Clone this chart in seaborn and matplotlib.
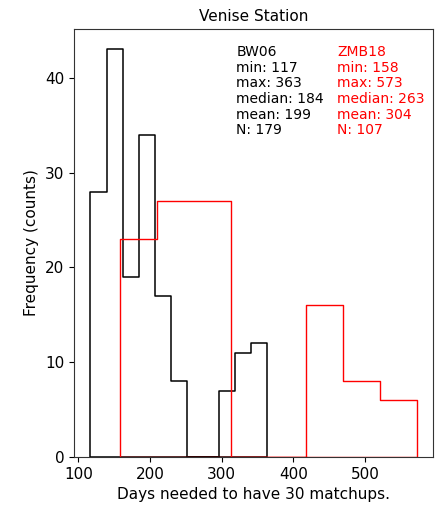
import numpy as np
import pandas as pd
import matplotlib
matplotlib.use("Agg")
import matplotlib.pyplot as plt
import seaborn as sns

# BW06 histogram (11 bins between min and max)
bw06_min, bw06_max = 117, 363
bw06_counts = [28, 43, 19, 34, 17, 8, 0, 0, 7, 11, 12]
bw06_stats = ["BW06", "min: 117", "max: 363", "median: 184", "mean: 199", "N: 179"]

# ZMB18 histogram (8 bins between min and max)
zmb18_min, zmb18_max = 158, 573
zmb18_counts = [23, 27, 27, 0, 0, 16, 8, 6]
zmb18_stats = ["ZMB18", "min: 158", "max: 573", "median: 263", "mean: 304", "N: 107"]

sns.set_style("ticks")
plt.rcParams['font.family'] = ['DejaVu Sans']
plt.rcParams['text.color'] = 'black'
plt.rcParams['axes.labelcolor'] = 'black'
plt.rcParams['xtick.color'] = 'black'
plt.rcParams['ytick.color'] = 'black'
plt.rcParams['axes.edgecolor'] = '#333333'

fig = plt.figure(figsize=(4.36, 5.05), dpi=100)
ax = fig.add_axes([74 / 436, 48 / 505, 359 / 436, 428 / 505])

bw06_edges = np.linspace(bw06_min, bw06_max, len(bw06_counts) + 1)
zmb18_edges = np.linspace(zmb18_min, zmb18_max, len(zmb18_counts) + 1)
bw06_df = pd.DataFrame({"x": (bw06_edges[:-1] + bw06_edges[1:]) / 2, "n": bw06_counts})
zmb18_df = pd.DataFrame({"x": (zmb18_edges[:-1] + zmb18_edges[1:]) / 2, "n": zmb18_counts})

sns.histplot(data=bw06_df, x="x", weights="n", bins=list(bw06_edges), element="step",
             fill=True, color="black", facecolor="none", linewidth=1.1, ax=ax)
sns.histplot(data=zmb18_df, x="x", weights="n", bins=list(zmb18_edges), element="step",
             fill=True, color="red", facecolor="none", linewidth=1.0, ax=ax)

ax.set_ylim(0, 45.15)
ax.set_xlim(94, 595)
ax.set_xticks([100, 200, 300, 400, 500])
ax.set_yticks([0, 10, 20, 30, 40])
ax.tick_params(labelsize=11)
ax.set_title("Venise Station", fontsize=11)
ax.set_xlabel("Days needed to have 30 matchups.", fontsize=11)
ax.set_ylabel("Frequency (counts)", fontsize=11)

ax.text(0.452, 0.962, "\n".join(bw06_stats), transform=ax.transAxes, va="top",
        ha="left", fontsize=10, linespacing=1.145, color="black")
ax.text(0.733, 0.962, "\n".join(zmb18_stats), transform=ax.transAxes, va="top",
        ha="left", fontsize=10, linespacing=1.145, color="red")

fig.savefig("out.png", dpi=100)
